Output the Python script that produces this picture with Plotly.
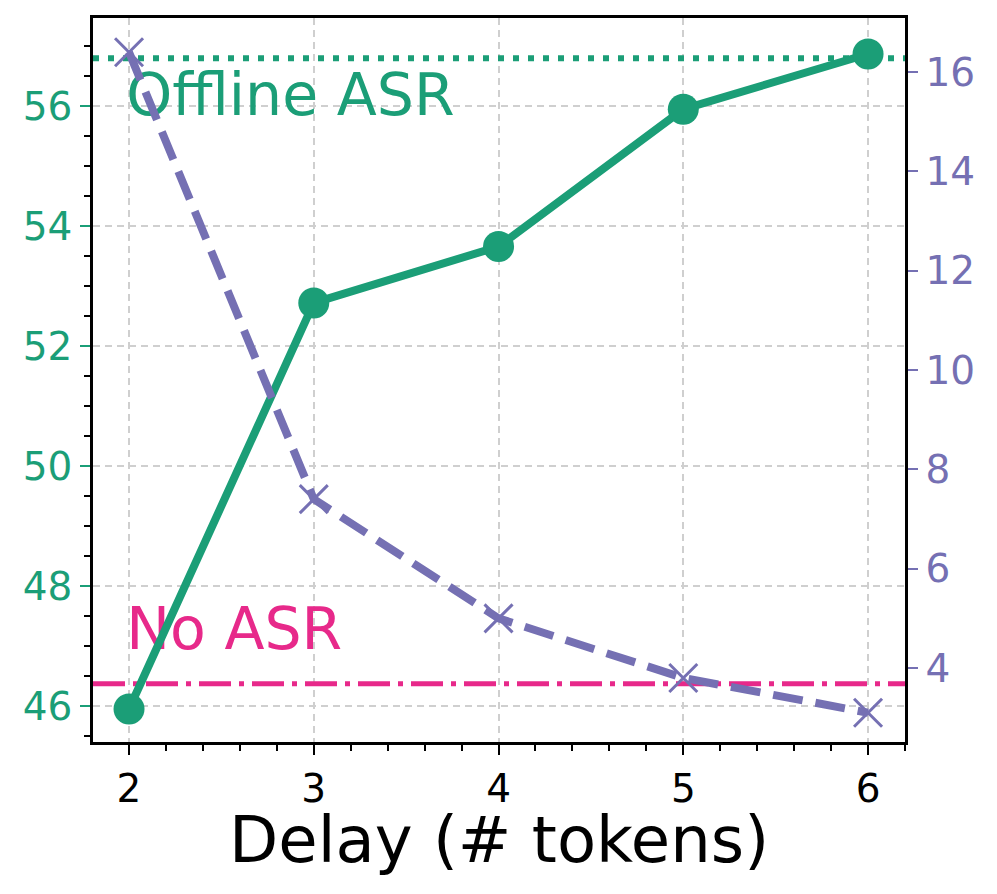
import plotly.graph_objects as go

delay = [2, 3, 4, 5, 6]
score = [45.95, 52.72, 53.66, 55.95, 56.87]
latency = [16.4, 7.4, 5.0, 3.8, 3.1]
offline_asr = 56.8
no_asr = 46.37
left_ticks = [46, 48, 50, 52, 54, 56]
right_ticks = [4, 6, 8, 10, 12, 14, 16]
x_ticks = [2, 3, 4, 5, 6]

GREEN = "#1b9e77"
PURPLE = "#7570b3"
PINK = "#e7298a"
FONT = "DejaVu Sans"
TICKSIZE = 39

xr = [1.805, 6.2]

fig = go.Figure()

# reference lines
fig.add_trace(go.Scatter(x=xr, y=[offline_asr, offline_asr], mode="lines",
                         line=dict(color=GREEN, width=6, dash="6px,9px"),
                         yaxis="y", showlegend=False, hoverinfo="skip"))
fig.add_trace(go.Scatter(x=xr, y=[no_asr, no_asr], mode="lines",
                         line=dict(color=PINK, width=5, dash="32px,8px,5px,8px"),
                         yaxis="y", showlegend=False, hoverinfo="skip"))
# labels
fig.add_trace(go.Scatter(x=[1.985, 1.985], y=[56.1, 47.2], mode="text",
                         text=["Offline ASR", "No ASR"],
                         textposition="middle right",
                         textfont=dict(family=FONT, size=58.5, color=[GREEN, PINK]),
                         yaxis="y", showlegend=False, hoverinfo="skip"))
# main series
fig.add_trace(go.Scatter(x=delay, y=score, mode="lines+markers",
                         line=dict(color=GREEN, width=8),
                         marker=dict(color=GREEN, size=31),
                         yaxis="y", showlegend=False))
fig.add_trace(go.Scatter(x=delay, y=latency, mode="lines+markers",
                         line=dict(color=PURPLE, width=8, dash="30px,13px"),
                         marker=dict(symbol="x-thin", color=PURPLE, size=28,
                                     line=dict(color=PURPLE, width=3)),
                         yaxis="y2", showlegend=False))

grid = dict(showgrid=True, gridcolor="#cfcfcf", griddash="7px,5px", gridwidth=2)

fig.update_layout(
    width=989, height=886,
    margin=dict(l=85, r=92, t=10, b=152, autoexpand=False),
    paper_bgcolor="white", plot_bgcolor="white",
    font=dict(family=FONT, size=TICKSIZE, color="black"),
    xaxis=dict(
        range=xr, tickvals=x_ticks, ticks="outside", ticklen=10, tickwidth=2,
        tickcolor="black", showline=True, linecolor="black", linewidth=2.5,
        mirror=True, zeroline=False, automargin=False, **grid,
        tickfont=dict(family=FONT, size=TICKSIZE, color="black"),
        minor=dict(dtick=0.2, tick0=2, ticks="outside", ticklen=6, tickwidth=2,
                   tickcolor="black", showgrid=False),
    ),
    yaxis=dict(
        range=[45.4, 57.47], tickvals=left_ticks, ticks="outside", ticklen=10,
        tickwidth=2, tickcolor=GREEN, showline=True, linecolor="black",
        linewidth=2.5, zeroline=False, automargin=False, **grid,
        tickfont=dict(family=FONT, size=TICKSIZE, color=GREEN),
        minor=dict(dtick=0.5, tick0=46, ticks="outside", ticklen=6, tickwidth=2,
                   tickcolor="black", showgrid=False),
    ),
    yaxis2=dict(
        range=[2.51, 17.09], tickvals=right_ticks, overlaying="y", side="right",
        ticks="outside", ticklen=10, tickwidth=2, tickcolor=PURPLE,
        showline=True, linecolor="black", linewidth=2.5, showgrid=False,
        zeroline=False, automargin=False,
        tickfont=dict(family=FONT, size=TICKSIZE, color=PURPLE),
    ),
    annotations=[dict(
        text="Delay (# tokens)", xref="paper", yref="paper", x=0.5, y=0,
        xanchor="center", yanchor="middle", yshift=-98, showarrow=False,
        font=dict(family=FONT, size=64, color="black"),
    )],
)

fig.write_html("out.html")
